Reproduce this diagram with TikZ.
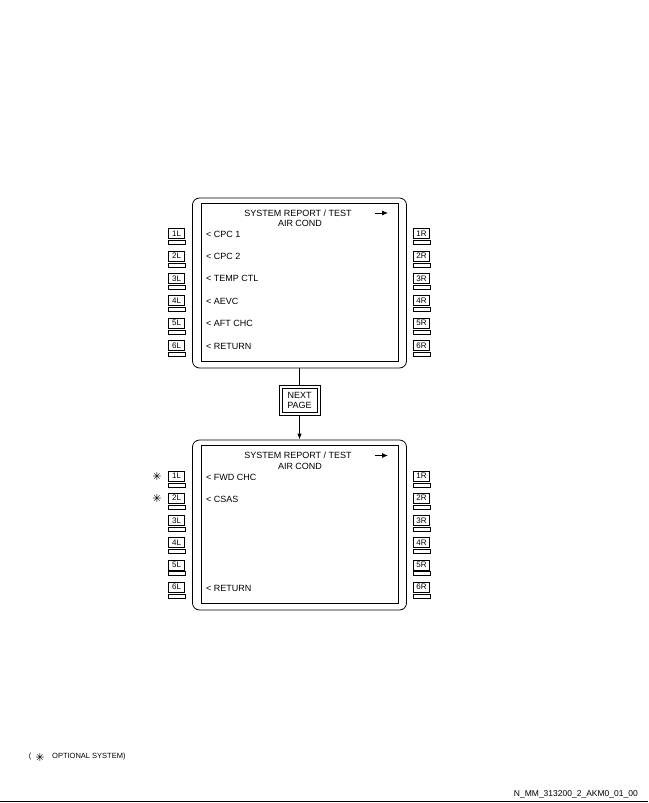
\documentclass[tikz,border=0pt]{standalone}
\usepackage{fontspec}
\setmainfont{Liberation Sans}
\newfontfamily\symfont{DejaVu Sans}
\usepackage{tikz}
\usetikzlibrary{arrows.meta}
\tikzstyle{screen}=[rectangle, draw=black, thick, rounded corners=7pt, minimum width=214pt, minimum height=170pt]
\tikzstyle{display}=[rectangle, draw=black, thick, minimum width=197pt, minimum height=158pt]
\tikzstyle{lsk}=[rectangle, draw=black, semithick, minimum width=16pt, minimum height=10pt, inner sep=0pt, font=\fontsize{8}{8}\selectfont]
\tikzstyle{lamp}=[rectangle, draw=black, thick, minimum width=17pt, minimum height=4pt, inner sep=0pt]
\tikzstyle{menu}=[anchor=west, inner sep=0pt, font=\fontsize{9}{9}\selectfont]
\tikzstyle{heading}=[inner sep=0pt, font=\fontsize{9}{9}\selectfont]
\tikzstyle{nextpage}=[rectangle, draw=black, semithick, minimum width=41pt, minimum height=30pt, inner sep=0pt]
\tikzstyle{nextpage_in}=[rectangle, draw=black, semithick, minimum width=35pt, minimum height=24pt, inner sep=0pt, align=center, font=\fontsize{9}{10}\selectfont]
\tikzstyle{optional}=[inner sep=0pt, font=\fontsize{11}{11}\symfont]

\begin{document}
\begin{tikzpicture}[x=1pt, y=-1pt]
    \useasboundingbox (0,0) rectangle (648,803);

    % upper page
    \node (S1) at (299.5,283) [screen] {};
    \node (D1) at (299.5,282) [display] {};
    \node (T1) at (298,213) [heading] {SYSTEM REPORT / TEST};
    \node (U1) at (300,223.5) [heading] {AIR COND};
    \draw (375,213) -- (388,213) [thick, -{Latex[length=6pt,width=5pt]}];
    \node (a1) at (206,234) [menu] {< CPC 1};
    \node (a2) at (206,256.4) [menu] {< CPC 2};
    \node (a3) at (206,278.8) [menu] {< TEMP CTL};
    \node (a4) at (206,301.2) [menu] {< AEVC};
    \node (a5) at (206,323.6) [menu] {< AFT CHC};
    \node (a6) at (206,346) [menu] {< RETURN};
    \foreach \i in {1,...,6} {
        \node (aL\i) at (176.5,{233.5+22.4*(\i-1)}) [lsk] {\i L};
        \node (aR\i) at (421.5,{233.5+22.4*(\i-1)}) [lsk] {\i R};
        \node (al\i) at (176.5,{242.5+22.4*(\i-1)}) [lamp] {};
        \node (ar\i) at (421.5,{242.5+22.4*(\i-1)}) [lamp] {};
    }

    % next page key
    \node (NP) at (299.5,400) [nextpage] {};
    \node (NPi) at (299.5,400) [nextpage_in] {NEXT\\PAGE};

    % lower page
    \node (S2) at (299.5,525) [screen] {};
    \node (D2) at (299.5,524.5) [display] {};
    \node (T2) at (298,455.5) [heading] {SYSTEM REPORT / TEST};
    \node (U2) at (300,466) [heading] {AIR COND};
    \draw (375,455.5) -- (388,455.5) [thick, -{Latex[length=6pt,width=5pt]}];
    \node (b1) at (206,477) [menu] {< FWD CHC};
    \node (b2) at (206,499) [menu] {< CSAS};
    \node (b6) at (206,588) [menu] {< RETURN};
    \foreach \i in {1,...,6} {
        \node (bL\i) at (176.5,{476+22.2*(\i-1)}) [lsk] {\i L};
        \node (bR\i) at (421.5,{476+22.2*(\i-1)}) [lsk] {\i R};
        \node (bl\i) at (176.5,{485+22.2*(\i-1)}) [lamp] {};
        \node (br\i) at (421.5,{485+22.2*(\i-1)}) [lamp] {};
    }
    \node (o1) at (157,476) [optional] {✳};
    \node (o2) at (157,498) [optional] {✳};

    \draw (S1.south) -- (NP.north) [thick];
    \draw (NP.south) -- (S2.north) [thick, -{Latex[length=6pt,width=4.5pt]}];

    % legend and reference
    \node (lp) at (30,757) [inner sep=0pt, font=\fontsize{7.5}{7.5}\selectfont] {(};
    \node (lo) at (40,757) [optional] {✳};
    \node (lt) at (52,757) [anchor=west, inner sep=0pt, font=\fontsize{7.5}{7.5}\selectfont] {OPTIONAL SYSTEM)};
    \node (ref) at (638,794) [anchor=east, inner sep=0pt, font=\fontsize{8.5}{8.5}\selectfont] {N\_MM\_313200\_2\_AKM0\_01\_00};
    \draw (0,801.5) -- (648,801.5) [thick];
\end{tikzpicture}
\end{document}
